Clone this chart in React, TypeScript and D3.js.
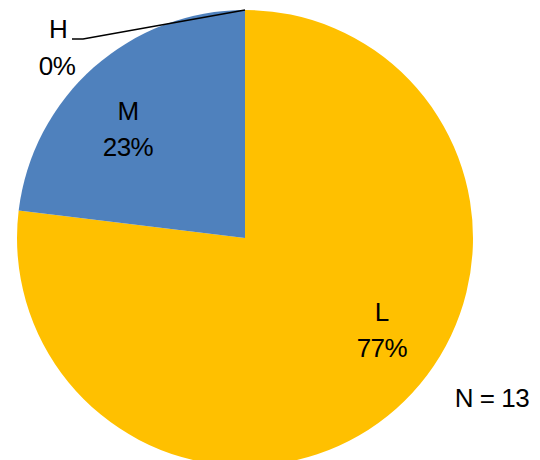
import React from "react";
import * as d3 from "d3";

const categories = ["L", "M", "H"];
const counts = [10, 3, 0];
const percentLabels = ["77%", "23%", "0%"];
const colors = ["#FFC000", "#4F81BD", "#4F81BD"];
const totalLabel = "N = 13";

const W = 540;
const H = 460;
const cx = 245;
const cy = 238;
const R = 228;
// label placement: angle (deg, clockwise from top) and radius for inside labels
const labelAngles = [124, 313];
const labelRadii = [165, 160];

export default function App() {
  const pie = d3.pie<number>().sort(null).value((d) => d)(counts);
  const arc = d3.arc<d3.PieArcDatum<number>>().innerRadius(0).outerRadius(R);
  const font = "'Liberation Sans', Arial, sans-serif";

  const hSlice = pie[2];
  const hPt = [R * Math.sin(hSlice.startAngle), -R * Math.cos(hSlice.startAngle)];

  return (
    <svg
      width={W}
      height={H}
      style={{ position: "absolute", left: 0, top: 0, background: "#fff" }}
    >
      <g transform={`translate(${cx},${cy})`}>
        {pie.map((p, i) =>
          p.value > 0 ? <path key={i} d={arc(p) || ""} fill={colors[i]} /> : null
        )}
        {[0, 1].map((i) => {
          const a = (labelAngles[i] * Math.PI) / 180;
          const x = labelRadii[i] * Math.sin(a);
          const y = -labelRadii[i] * Math.cos(a);
          return (
            <g key={i} fontFamily={font} fontSize={26} textAnchor="middle" letterSpacing={-0.6}>
              <text x={x} y={y - 9}>{categories[i]}</text>
              <text x={x} y={y + 27}>{percentLabels[i]}</text>
            </g>
          );
        })}
        <polyline
          points={`${hPt[0]},${hPt[1]} ${-162},${-199} ${-173},${-199}`}
          fill="none"
          stroke="#000"
          strokeWidth={1.5}
        />
        <g fontFamily={font} fontSize={26} textAnchor="middle" letterSpacing={-0.6}>
          <text x={-187} y={-200}>{categories[2]}</text>
          <text x={-188} y={-163}>{percentLabels[2]}</text>
        </g>
      </g>
      <text x={492} y={407} fontFamily={font} fontSize={26} textAnchor="middle" letterSpacing={-0.5}>
        {totalLabel}
      </text>
    </svg>
  );
}
